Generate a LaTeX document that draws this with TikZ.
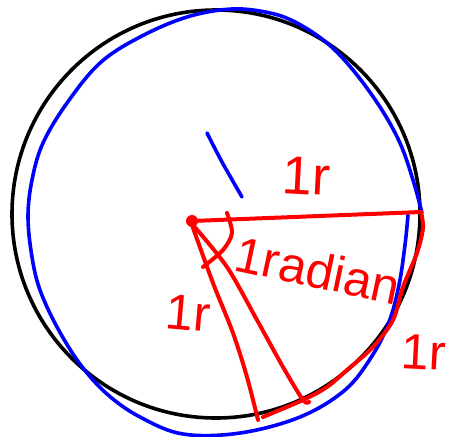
\documentclass[tikz,border=0pt]{standalone}
\usepackage{fontspec}
\setmainfont{Liberation Sans}
\usetikzlibrary{calc}
\definecolor{inkblue}{RGB}{0,0,255}
\definecolor{inkred}{RGB}{255,0,0}

\begin{document}
\begin{tikzpicture}[x=1pt, y=-1pt,
    circ/.style={line width=3.6pt, draw=black},
    bluepen/.style={line width=3.6pt, draw=inkblue, line cap=round, line join=round},
    redpen/.style={line width=4pt, draw=inkred, line cap=round, line join=round},
    lbl/.style={text=inkred, inner sep=0pt, font=\fontsize{50}{52}\selectfont},
  ]
    \useasboundingbox (0,0) rectangle (451,437);

    % the exact circle and the freehand one
    \draw[circ] (216,214) circle[radius=204];
    \draw[bluepen] plot[smooth, tension=0.6] coordinates {(408,215) (405,245) (399,285)
      (389,322) (372,356) (345,390) (300,417) (240,433) (183,434) (140,417) (107,394)
      (80,364) (57,327) (40,290) (32,257) (28,217) (32,180) (43,143) (67,103) (100,63)
      (140,37) (187,17) (232,9) (270,13) (297,23) (327,43) (353,70) (380,107) (400,143)
      (413,180) (422,213)};
    \draw[bluepen] plot[smooth] coordinates {(207,133) (222,162) (242,197)};

    % radius, arc and the angle of one radian
    \coordinate (ctr) at (192,221);
    \coordinate (rim) at (421,212);
    \fill[inkred] (ctr) circle[radius=6];
    \draw[redpen] (ctr) -- (rim);
    \draw[redpen] plot[smooth] coordinates {(421,212) (423,228) (417,253) (403,287)
      (393,320) (373,347) (347,370) (327,387) (303,400) (263,417)};
    \draw[redpen] plot[smooth] coordinates {(192,225) (213,283) (233,333) (247,377) (258,420)};
    \draw[redpen] plot[smooth] coordinates {(193,225) (227,267) (257,320) (283,367) (303,400) (309,402)};
    \draw[redpen] plot[smooth] coordinates {(227,213) (232,233) (223,250) (203,267)};

    \node[lbl, rotate=-3, font=\fontsize{54}{56}\selectfont] (top) at (306,176) {1r};
    \node[lbl, rotate=-12] (angle) at (318,270) {1radian};
    \node[lbl, rotate=-5]  (left)  at (188,313) {1r};
    \node[lbl, rotate=-3]  (right) at (424,352) {1r};
  \end{tikzpicture}
\end{document}
